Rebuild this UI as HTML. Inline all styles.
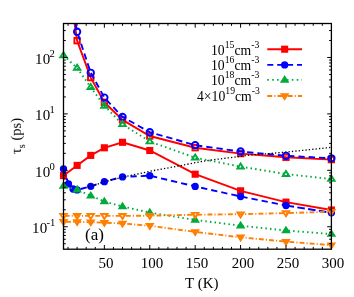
<!DOCTYPE html>
<html><head><meta charset="utf-8"><style>
html,body{margin:0;padding:0;background:#fff}
body{width:354px;height:297px;position:relative;overflow:hidden;font-family:"Liberation Serif",serif;color:#000}
.t{position:absolute;white-space:nowrap;line-height:1;font-size:15px;will-change:transform}
.t sup,.t sub{font-size:0.71em;line-height:0;vertical-align:baseline;position:relative}
</style></head><body>
<svg width="354" height="297" viewBox="0 0 354 297" style="position:absolute;left:0;top:0">
<defs><clipPath id="c"><rect x="63.50" y="23.50" width="267.90" height="225.70"/></clipPath></defs>
<path d="M63.50 175.60 L77.12 165.40 L90.74 155.40 L104.37 147.80 L122.53 142.30 L149.77 150.50 L195.18 174.20 L240.59 190.80 L285.99 202.10 L331.40 210.00" fill="none" stroke="#ff0000" stroke-width="1.90" clip-path="url(#c)"/>
<rect x="59.95" y="172.05" width="7.10" height="7.10" fill="#ff0000"/>
<rect x="73.57" y="161.85" width="7.10" height="7.10" fill="#ff0000"/>
<rect x="87.19" y="151.85" width="7.10" height="7.10" fill="#ff0000"/>
<rect x="100.82" y="144.25" width="7.10" height="7.10" fill="#ff0000"/>
<rect x="118.98" y="138.75" width="7.10" height="7.10" fill="#ff0000"/>
<rect x="146.22" y="146.95" width="7.10" height="7.10" fill="#ff0000"/>
<rect x="191.63" y="170.65" width="7.10" height="7.10" fill="#ff0000"/>
<rect x="237.04" y="187.25" width="7.10" height="7.10" fill="#ff0000"/>
<rect x="282.44" y="198.55" width="7.10" height="7.10" fill="#ff0000"/>
<rect x="327.85" y="206.45" width="7.10" height="7.10" fill="#ff0000"/>
<path d="M63.50 168.90 L68.49 183.90 L73.04 189.00 L77.12 189.90 L90.74 186.30 L104.37 181.70 L122.53 176.90 L149.77 175.70 L195.18 186.40 L240.59 196.50 L285.99 205.50" fill="none" stroke="#0000ff" stroke-width="1.90" stroke-dasharray="6.30,4.00" stroke-dashoffset="0.40" clip-path="url(#c)"/>
<path d="M285.99 205.50 L331.40 212.80" fill="none" stroke="#0000ff" stroke-width="1.90" stroke-dasharray="7.60,3.30" stroke-dashoffset="10.35" clip-path="url(#c)"/>
<circle cx="63.50" cy="168.90" r="3.65" fill="#0000ff"/>
<circle cx="68.49" cy="183.90" r="3.65" fill="#0000ff"/>
<circle cx="73.04" cy="189.00" r="3.65" fill="#0000ff"/>
<circle cx="77.12" cy="189.90" r="3.65" fill="#0000ff"/>
<circle cx="90.74" cy="186.30" r="3.65" fill="#0000ff"/>
<circle cx="104.37" cy="181.70" r="3.65" fill="#0000ff"/>
<circle cx="122.53" cy="176.90" r="3.65" fill="#0000ff"/>
<circle cx="149.77" cy="175.70" r="3.65" fill="#0000ff"/>
<circle cx="195.18" cy="186.40" r="3.65" fill="#0000ff"/>
<circle cx="240.59" cy="196.50" r="3.65" fill="#0000ff"/>
<circle cx="285.99" cy="205.50" r="3.65" fill="#0000ff"/>
<circle cx="331.40" cy="212.80" r="3.65" fill="#0000ff"/>
<path d="M63.50 185.90 L77.12 189.70 L90.74 195.80 L104.37 201.50 L122.53 206.50 L149.77 212.60 L195.18 219.90 L240.59 225.70 L285.99 230.50 L331.40 234.10" fill="none" stroke="#00aa3c" stroke-width="1.90" stroke-dasharray="1.50,3.15" stroke-dashoffset="2.00" clip-path="url(#c)"/>
<polygon points="63.50,182.70 60.30,187.75 66.70,187.75" fill="#00aa3c" stroke="#00aa3c" stroke-width="1.75"/>
<polygon points="77.12,186.50 73.92,191.55 80.32,191.55" fill="#00aa3c" stroke="#00aa3c" stroke-width="1.75"/>
<polygon points="90.74,192.60 87.54,197.65 93.94,197.65" fill="#00aa3c" stroke="#00aa3c" stroke-width="1.75"/>
<polygon points="104.37,198.30 101.17,203.35 107.57,203.35" fill="#00aa3c" stroke="#00aa3c" stroke-width="1.75"/>
<polygon points="122.53,203.30 119.33,208.35 125.73,208.35" fill="#00aa3c" stroke="#00aa3c" stroke-width="1.75"/>
<polygon points="149.77,209.40 146.57,214.45 152.97,214.45" fill="#00aa3c" stroke="#00aa3c" stroke-width="1.75"/>
<polygon points="195.18,216.70 191.98,221.75 198.38,221.75" fill="#00aa3c" stroke="#00aa3c" stroke-width="1.75"/>
<polygon points="240.59,222.50 237.39,227.55 243.79,227.55" fill="#00aa3c" stroke="#00aa3c" stroke-width="1.75"/>
<polygon points="285.99,227.30 282.79,232.35 289.19,232.35" fill="#00aa3c" stroke="#00aa3c" stroke-width="1.75"/>
<polygon points="331.40,230.90 328.20,235.95 334.60,235.95" fill="#00aa3c" stroke="#00aa3c" stroke-width="1.75"/>
<path d="M63.50 221.80 L77.12 221.90 L90.74 222.20 L104.37 222.70 L122.53 223.50 L149.77 225.80 L195.18 231.90 L240.59 237.30 L285.99 241.60 L331.40 245.20" fill="none" stroke="#ff7f00" stroke-width="1.90" stroke-dasharray="4.90,2.10,1.10,2.10" stroke-dashoffset="7.67" clip-path="url(#c)"/>
<polygon points="63.50,225.00 60.30,219.95 66.70,219.95" fill="#ff7f00" stroke="#ff7f00" stroke-width="1.75"/>
<polygon points="77.12,225.10 73.92,220.05 80.32,220.05" fill="#ff7f00" stroke="#ff7f00" stroke-width="1.75"/>
<polygon points="90.74,225.40 87.54,220.35 93.94,220.35" fill="#ff7f00" stroke="#ff7f00" stroke-width="1.75"/>
<polygon points="104.37,225.90 101.17,220.85 107.57,220.85" fill="#ff7f00" stroke="#ff7f00" stroke-width="1.75"/>
<polygon points="122.53,226.70 119.33,221.65 125.73,221.65" fill="#ff7f00" stroke="#ff7f00" stroke-width="1.75"/>
<polygon points="149.77,229.00 146.57,223.95 152.97,223.95" fill="#ff7f00" stroke="#ff7f00" stroke-width="1.75"/>
<polygon points="195.18,235.10 191.98,230.05 198.38,230.05" fill="#ff7f00" stroke="#ff7f00" stroke-width="1.75"/>
<polygon points="240.59,240.50 237.39,235.45 243.79,235.45" fill="#ff7f00" stroke="#ff7f00" stroke-width="1.75"/>
<polygon points="285.99,244.80 282.79,239.75 289.19,239.75" fill="#ff7f00" stroke="#ff7f00" stroke-width="1.75"/>
<polygon points="331.40,248.40 328.20,243.35 334.60,243.35" fill="#ff7f00" stroke="#ff7f00" stroke-width="1.75"/>
<path d="M63.50 -52.00 L77.12 40.70 L90.74 77.60 L104.37 102.30 L122.53 119.90 L149.77 136.00 L195.18 147.70 L240.59 153.60 L285.99 157.30 L331.40 159.60" fill="none" stroke="#ff0000" stroke-width="1.90" clip-path="url(#c)"/>
<rect x="74.40" y="37.98" width="5.44" height="5.44" fill="none" stroke="#ff0000" stroke-width="1.90"/>
<rect x="88.02" y="74.88" width="5.44" height="5.44" fill="none" stroke="#ff0000" stroke-width="1.90"/>
<rect x="101.65" y="99.58" width="5.44" height="5.44" fill="none" stroke="#ff0000" stroke-width="1.90"/>
<rect x="119.81" y="117.18" width="5.44" height="5.44" fill="none" stroke="#ff0000" stroke-width="1.90"/>
<rect x="147.05" y="133.28" width="5.44" height="5.44" fill="none" stroke="#ff0000" stroke-width="1.90"/>
<rect x="192.46" y="144.98" width="5.44" height="5.44" fill="none" stroke="#ff0000" stroke-width="1.90"/>
<rect x="237.87" y="150.88" width="5.44" height="5.44" fill="none" stroke="#ff0000" stroke-width="1.90"/>
<rect x="283.27" y="154.58" width="5.44" height="5.44" fill="none" stroke="#ff0000" stroke-width="1.90"/>
<rect x="328.68" y="156.88" width="5.44" height="5.44" fill="none" stroke="#ff0000" stroke-width="1.90"/>
<path d="M63.50 -36.00 L77.12 31.70 L90.74 72.80 L104.37 97.60 L122.53 116.90 L149.77 132.20 L195.18 145.20 L240.59 151.50 L285.99 155.80 L331.40 158.30" fill="none" stroke="#0000ff" stroke-width="1.90" stroke-dasharray="6.30,4.00" stroke-dashoffset="0.68" clip-path="url(#c)"/>
<circle cx="77.12" cy="31.70" r="3.20" fill="none" stroke="#0000ff" stroke-width="1.90"/>
<circle cx="90.74" cy="72.80" r="3.20" fill="none" stroke="#0000ff" stroke-width="1.90"/>
<circle cx="104.37" cy="97.60" r="3.20" fill="none" stroke="#0000ff" stroke-width="1.90"/>
<circle cx="122.53" cy="116.90" r="3.20" fill="none" stroke="#0000ff" stroke-width="1.90"/>
<circle cx="149.77" cy="132.20" r="3.20" fill="none" stroke="#0000ff" stroke-width="1.90"/>
<circle cx="195.18" cy="145.20" r="3.20" fill="none" stroke="#0000ff" stroke-width="1.90"/>
<circle cx="240.59" cy="151.50" r="3.20" fill="none" stroke="#0000ff" stroke-width="1.90"/>
<circle cx="285.99" cy="155.80" r="3.20" fill="none" stroke="#0000ff" stroke-width="1.90"/>
<circle cx="331.40" cy="158.30" r="3.20" fill="none" stroke="#0000ff" stroke-width="1.90"/>
<path d="M63.50 55.40 L77.12 68.00 L90.74 87.20 L104.37 105.90 L122.53 124.30 L149.77 141.50 L195.18 157.70 L240.59 166.60 L285.99 174.10 L331.40 179.00" fill="none" stroke="#00aa3c" stroke-width="1.90" stroke-dasharray="1.50,3.15" clip-path="url(#c)"/>
<polygon points="63.50,52.20 60.30,57.25 66.70,57.25" fill="none" stroke="#00aa3c" stroke-width="1.90"/>
<polygon points="77.12,64.80 73.92,69.85 80.32,69.85" fill="none" stroke="#00aa3c" stroke-width="1.90"/>
<polygon points="90.74,84.00 87.54,89.05 93.94,89.05" fill="none" stroke="#00aa3c" stroke-width="1.90"/>
<polygon points="104.37,102.70 101.17,107.75 107.57,107.75" fill="none" stroke="#00aa3c" stroke-width="1.90"/>
<polygon points="122.53,121.10 119.33,126.15 125.73,126.15" fill="none" stroke="#00aa3c" stroke-width="1.90"/>
<polygon points="149.77,138.30 146.57,143.35 152.97,143.35" fill="none" stroke="#00aa3c" stroke-width="1.90"/>
<polygon points="195.18,154.50 191.98,159.55 198.38,159.55" fill="none" stroke="#00aa3c" stroke-width="1.90"/>
<polygon points="240.59,163.40 237.39,168.45 243.79,168.45" fill="none" stroke="#00aa3c" stroke-width="1.90"/>
<polygon points="285.99,170.90 282.79,175.95 289.19,175.95" fill="none" stroke="#00aa3c" stroke-width="1.90"/>
<polygon points="331.40,175.80 328.20,180.85 334.60,180.85" fill="none" stroke="#00aa3c" stroke-width="1.90"/>
<path d="M63.50 215.90 L77.12 215.90 L90.74 215.90 L104.37 215.90 L122.53 215.90 L149.77 215.70 L195.18 214.70 L240.59 214.20 L285.99 213.10 L331.40 211.70" fill="none" stroke="#ff7f00" stroke-width="1.90" stroke-dasharray="4.90,2.10,1.10,2.10" stroke-dashoffset="8.99" clip-path="url(#c)"/>
<polygon points="63.50,219.10 60.30,214.05 66.70,214.05" fill="none" stroke="#ff7f00" stroke-width="1.90"/>
<polygon points="77.12,219.10 73.92,214.05 80.32,214.05" fill="none" stroke="#ff7f00" stroke-width="1.90"/>
<polygon points="90.74,219.10 87.54,214.05 93.94,214.05" fill="none" stroke="#ff7f00" stroke-width="1.90"/>
<polygon points="104.37,219.10 101.17,214.05 107.57,214.05" fill="none" stroke="#ff7f00" stroke-width="1.90"/>
<polygon points="122.53,219.10 119.33,214.05 125.73,214.05" fill="none" stroke="#ff7f00" stroke-width="1.90"/>
<polygon points="149.77,218.90 146.57,213.85 152.97,213.85" fill="none" stroke="#ff7f00" stroke-width="1.90"/>
<polygon points="195.18,217.90 191.98,212.85 198.38,212.85" fill="none" stroke="#ff7f00" stroke-width="1.90"/>
<polygon points="240.59,217.40 237.39,212.35 243.79,212.35" fill="none" stroke="#ff7f00" stroke-width="1.90"/>
<polygon points="285.99,216.30 282.79,211.25 289.19,211.25" fill="none" stroke="#ff7f00" stroke-width="1.90"/>
<polygon points="331.40,214.90 328.20,209.85 334.60,209.85" fill="none" stroke="#ff7f00" stroke-width="1.90"/>
<path d="M88.00 187.00 L90.70 186.30 L104.40 181.90 L122.50 177.20 L152.80 170.70 L178.20 166.00 L201.70 161.50 L216.90 159.30 L233.90 157.20 L250.80 155.00 L270.00 153.50 L289.80 151.70 L309.50 149.70 L331.30 147.30" fill="none" stroke="#000" stroke-width="1.30" stroke-dasharray="1.30,2.10" clip-path="url(#c)"/>
<rect x="63.50" y="23.50" width="267.90" height="225.70" fill="none" stroke="#000" stroke-width="1.30"/>
<path d="M68.04 249.20 v-2.30 M68.04 23.50 v2.30 M77.12 249.20 v-2.30 M77.12 23.50 v2.30 M86.20 249.20 v-2.30 M86.20 23.50 v2.30 M95.28 249.20 v-2.30 M95.28 23.50 v2.30 M104.37 249.20 v-4.20 M104.37 23.50 v4.20 M113.45 249.20 v-2.30 M113.45 23.50 v2.30 M122.53 249.20 v-2.30 M122.53 23.50 v2.30 M131.61 249.20 v-2.30 M131.61 23.50 v2.30 M140.69 249.20 v-2.30 M140.69 23.50 v2.30 M149.77 249.20 v-4.20 M149.77 23.50 v4.20 M158.85 249.20 v-2.30 M158.85 23.50 v2.30 M167.94 249.20 v-2.30 M167.94 23.50 v2.30 M177.02 249.20 v-2.30 M177.02 23.50 v2.30 M186.10 249.20 v-2.30 M186.10 23.50 v2.30 M195.18 249.20 v-4.20 M195.18 23.50 v4.20 M204.26 249.20 v-2.30 M204.26 23.50 v2.30 M213.34 249.20 v-2.30 M213.34 23.50 v2.30 M222.42 249.20 v-2.30 M222.42 23.50 v2.30 M231.51 249.20 v-2.30 M231.51 23.50 v2.30 M240.59 249.20 v-4.20 M240.59 23.50 v4.20 M249.67 249.20 v-2.30 M249.67 23.50 v2.30 M258.75 249.20 v-2.30 M258.75 23.50 v2.30 M267.83 249.20 v-2.30 M267.83 23.50 v2.30 M276.91 249.20 v-2.30 M276.91 23.50 v2.30 M285.99 249.20 v-4.20 M285.99 23.50 v4.20 M295.07 249.20 v-2.30 M295.07 23.50 v2.30 M304.16 249.20 v-2.30 M304.16 23.50 v2.30 M313.24 249.20 v-2.30 M313.24 23.50 v2.30 M322.32 249.20 v-2.30 M322.32 23.50 v2.30 M63.50 243.73 h2.30 M331.40 243.73 h-2.30 M63.50 239.26 h2.30 M331.40 239.26 h-2.30 M63.50 235.49 h2.30 M331.40 235.49 h-2.30 M63.50 232.21 h2.30 M331.40 232.21 h-2.30 M63.50 229.33 h2.30 M331.40 229.33 h-2.30 M63.50 226.75 h4.20 M331.40 226.75 h-4.20 M63.50 209.76 h2.30 M331.40 209.76 h-2.30 M63.50 199.82 h2.30 M331.40 199.82 h-2.30 M63.50 192.77 h2.30 M331.40 192.77 h-2.30 M63.50 187.31 h2.30 M331.40 187.31 h-2.30 M63.50 182.84 h2.30 M331.40 182.84 h-2.30 M63.50 179.06 h2.30 M331.40 179.06 h-2.30 M63.50 175.79 h2.30 M331.40 175.79 h-2.30 M63.50 172.90 h2.30 M331.40 172.90 h-2.30 M63.50 170.32 h4.20 M331.40 170.32 h-4.20 M63.50 153.34 h2.30 M331.40 153.34 h-2.30 M63.50 143.40 h2.30 M331.40 143.40 h-2.30 M63.50 136.35 h2.30 M331.40 136.35 h-2.30 M63.50 130.88 h2.30 M331.40 130.88 h-2.30 M63.50 126.41 h2.30 M331.40 126.41 h-2.30 M63.50 122.64 h2.30 M331.40 122.64 h-2.30 M63.50 119.36 h2.30 M331.40 119.36 h-2.30 M63.50 116.48 h2.30 M331.40 116.48 h-2.30 M63.50 113.90 h4.20 M331.40 113.90 h-4.20 M63.50 96.91 h2.30 M331.40 96.91 h-2.30 M63.50 86.97 h2.30 M331.40 86.97 h-2.30 M63.50 79.92 h2.30 M331.40 79.92 h-2.30 M63.50 74.46 h2.30 M331.40 74.46 h-2.30 M63.50 69.99 h2.30 M331.40 69.99 h-2.30 M63.50 66.21 h2.30 M331.40 66.21 h-2.30 M63.50 62.94 h2.30 M331.40 62.94 h-2.30 M63.50 60.05 h2.30 M331.40 60.05 h-2.30 M63.50 57.47 h4.20 M331.40 57.47 h-4.20 M63.50 40.49 h2.30 M331.40 40.49 h-2.30 M63.50 30.55 h2.30 M331.40 30.55 h-2.30" stroke="#000" stroke-width="1.00" fill="none"/>
<path d="M267.30 49.20 L302.00 49.20" fill="none" stroke="#ff0000" stroke-width="1.90"/>
<rect x="281.10" y="45.65" width="7.10" height="7.10" fill="#ff0000"/>
<path d="M267.30 64.90 L302.00 64.90" fill="none" stroke="#0000ff" stroke-width="1.90" stroke-dasharray="6.00,3.90"/>
<circle cx="284.65" cy="64.90" r="3.65" fill="#0000ff"/>
<path d="M267.30 79.90 L302.00 79.90" fill="none" stroke="#00aa3c" stroke-width="1.90" stroke-dasharray="1.60,3.30"/>
<polygon points="284.65,76.70 281.45,81.75 287.85,81.75" fill="#00aa3c" stroke="#00aa3c" stroke-width="1.75"/>
<path d="M267.30 96.00 L302.00 96.00" fill="none" stroke="#ff7f00" stroke-width="1.90" stroke-dasharray="4.90,2.10,1.10,2.10"/>
<polygon points="284.65,99.20 281.45,94.15 287.85,94.15" fill="#ff7f00" stroke="#ff7f00" stroke-width="1.75"/>
</svg>
<div class="t" style="left:106.37px;top:256.44px;transform:translateX(-50%)">50</div>
<div class="t" style="left:151.77px;top:256.44px;transform:translateX(-50%)">100</div>
<div class="t" style="left:197.18px;top:256.44px;transform:translateX(-50%)">150</div>
<div class="t" style="left:242.59px;top:256.44px;transform:translateX(-50%)">200</div>
<div class="t" style="left:287.99px;top:256.44px;transform:translateX(-50%)">250</div>
<div class="t" style="left:333.40px;top:256.44px;transform:translateX(-50%)">300</div>
<div class="t" style="right:299.10px;top:221.18px"><span style="letter-spacing:0.3px">10</span><sup style="top:-7.0px;margin-left:-1.2px">-1</sup></div>
<div class="t" style="right:299.10px;top:164.76px"><span style="letter-spacing:0.3px">10</span><sup style="top:-7.0px;margin-left:-1.2px">0</sup></div>
<div class="t" style="right:299.10px;top:108.33px"><span style="letter-spacing:0.3px">10</span><sup style="top:-7.0px;margin-left:-1.2px">1</sup></div>
<div class="t" style="right:299.10px;top:51.91px"><span style="letter-spacing:0.3px">10</span><sup style="top:-7.0px;margin-left:-1.2px">2</sup></div>
<div class="t" style="left:184.9px;top:276.44px">T (K)</div>
<div class="t" style="left:21.2px;top:135.9px;font-size:14.5px;transform-origin:0 0;transform:rotate(-90deg) translate(-50%,-12.14px)">&tau;<sub style="top:4px">s</sub> (ps)</div>
<div class="t" style="left:85px;top:225.96px;font-size:17px">(a)</div>
<div class="t" style="right:94.40px;top:43.53px;font-size:13.7px">10<sup style="top:-7.1px">15</sup>cm<sup style="top:-7.1px">-3</sup></div>
<div class="t" style="right:94.40px;top:58.53px;font-size:13.7px">10<sup style="top:-7.1px">16</sup>cm<sup style="top:-7.1px">-3</sup></div>
<div class="t" style="right:94.40px;top:73.53px;font-size:13.7px">10<sup style="top:-7.1px">18</sup>cm<sup style="top:-7.1px">-3</sup></div>
<div class="t" style="right:94.40px;top:89.53px;font-size:13.7px">4&times;10<sup style="top:-7.1px">19</sup>cm<sup style="top:-7.1px">-3</sup></div>
</body></html>
